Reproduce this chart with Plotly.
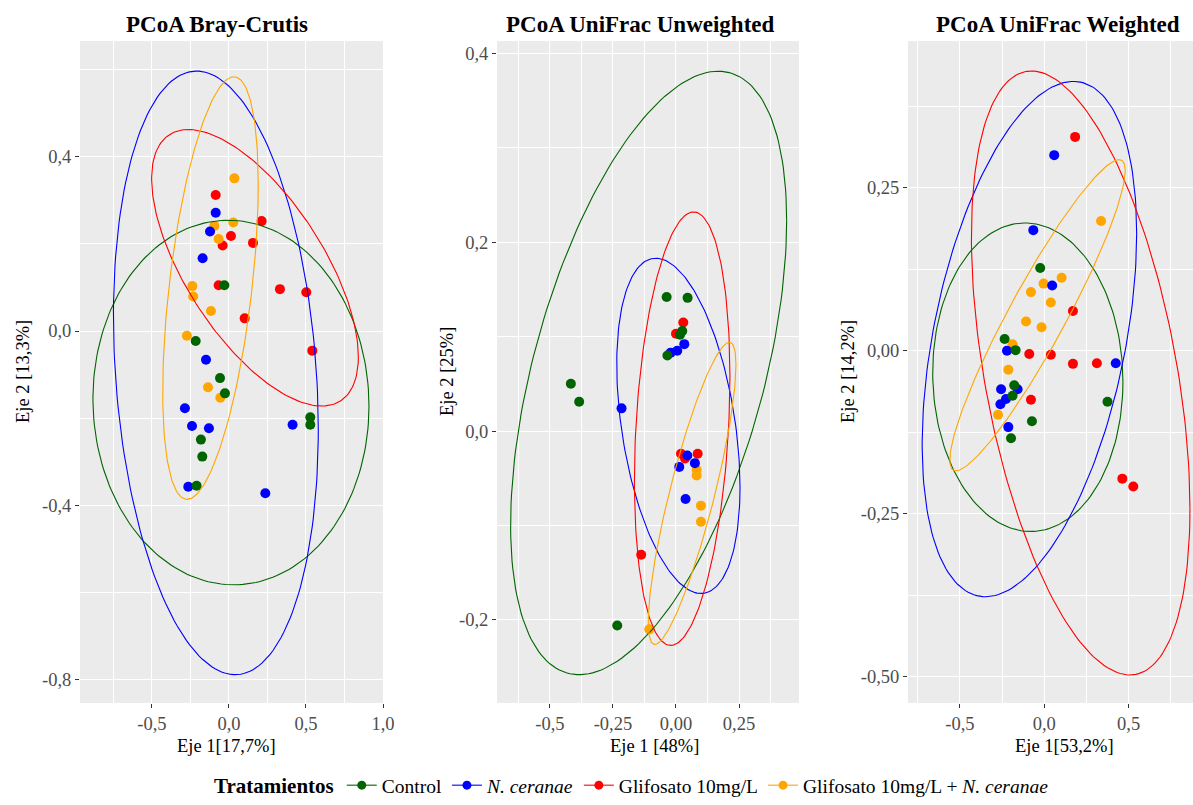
import numpy as np
import plotly.graph_objects as go

# ---- treatments -------------------------------------------------------
groups = ["Control", "<i>N. ceranae</i>", "Glifosato 10mg/L",
          "Glifosato 10mg/L + <i>N. ceranae</i>"]
colors = ["#006400", "#0000FF", "#FF0000", "#FFA500"]

# ---- PCoA Bray-Curtis scores -----------------------------------------
bc_ctrl_x = [-0.03, -0.216, -0.058, -0.026, 0.528, 0.528, -0.182, -0.173, -0.21]
bc_ctrl_y = [0.105, -0.023, -0.108, -0.143, -0.198, -0.215, -0.249, -0.288, -0.355]
bc_nc_x = [-0.086, -0.123, -0.171, -0.149, -0.286, -0.24, -0.13, 0.413, -0.264, 0.236]
bc_nc_y = [0.271, 0.228, 0.167, -0.066, -0.177, -0.218, -0.223, -0.215, -0.357, -0.372]
bc_gl_x = [-0.086, 0.212, 0.013, -0.041, 0.156, -0.067, 0.331, 0.502, 0.102, 0.541]
bc_gl_y = [0.312, 0.252, 0.218, 0.196, 0.202, 0.105, 0.096, 0.089, 0.029, -0.045]
bc_glnc_x = [0.035, -0.095, 0.028, -0.067, -0.238, -0.232, -0.117, -0.273, -0.136, -0.056]
bc_glnc_y = [0.35, 0.241, 0.249, 0.211, 0.103, 0.079, 0.046, -0.011, -0.129, -0.153]

# ---- PCoA UniFrac unweighted scores ----------------------------------
uu_ctrl_x = [-0.037, 0.046, 0.025, 0.016, -0.034, -0.417, -0.384, -0.233]
uu_ctrl_y = [0.142, 0.141, 0.106, 0.102, 0.080, 0.050, 0.031, -0.206]
uu_nc_x = [0.033, 0.005, -0.021, -0.216, 0.045, 0.075, 0.013, 0.038]
uu_nc_y = [0.092, 0.085, 0.083, 0.024, -0.026, -0.034, -0.038, -0.072]
uu_gl_x = [0.029, 0.0, 0.02, 0.086, 0.036, -0.138]
uu_gl_y = [0.115, 0.103, -0.024, -0.024, -0.029, -0.131]
uu_glnc_x = [0.082, 0.082, 0.099, 0.099, -0.106]
uu_glnc_y = [-0.041, -0.047, -0.079, -0.096, -0.21]

# ---- PCoA UniFrac weighted scores ------------------------------------
uw_ctrl_x = [-0.024, -0.235, -0.17, -0.178, -0.188, 0.375, -0.073, -0.197]
uw_ctrl_y = [0.127, 0.018, 0.001, -0.053, -0.069, -0.078, -0.108, -0.134]
uw_nc_x = [0.059, -0.065, 0.047, -0.221, 0.424, -0.256, -0.158, -0.227, -0.26, -0.213]
uw_nc_y = [0.30, 0.185, 0.10, 0.0, -0.019, -0.059, -0.059, -0.074, -0.082, -0.117]
uw_gl_x = [0.183, 0.17, -0.089, 0.039, 0.17, 0.312, -0.079, 0.463, 0.528]
uw_gl_y = [0.328, 0.061, -0.005, -0.006, -0.02, -0.019, -0.075, -0.196, -0.208]
uw_glnc_x = [0.337, 0.103, -0.004, -0.079, 0.039, -0.108, -0.016, -0.188, -0.213, -0.274]
uw_glnc_y = [0.199, 0.112, 0.103, 0.09, 0.074, 0.045, 0.036, 0.010, -0.029, -0.098]

# ---- confidence ellipses: centre, half-extents, tilt (sin of phase) ----
bc_ell_cx = [0.013, -0.085, 0.169, -0.12]
bc_ell_cy = [-0.164, -0.096, 0.145, 0.0985]
bc_ell_rx = [0.896, 0.665, 0.671, 0.31]
bc_ell_ry = [0.418, 0.692, 0.317, 0.4845]
bc_ell_tilt = [-0.02, -0.188, -0.645, 0.49]

uu_ell_cx = [-0.1085, 0.0095, 0.0245, 0.064]
uu_ell_cy = [0.0615, 0.0055, 0.0025, -0.066]
uu_ell_rx = [0.5475, 0.2445, 0.1895, 0.174]
uu_ell_ry = [0.3195, 0.1775, 0.2295, 0.16]
uu_ell_tilt = [0.504, -0.366, 0.24, 0.85]

uw_ell_cx = [-0.0975, -0.088, 0.216, -0.04]
uw_ell_cy = [-0.0405, 0.018, -0.034, 0.0545]
uw_ell_rx = [0.564, 0.636, 0.648, 0.52]
uw_ell_ry = [0.2365, 0.395, 0.463, 0.2385]
uw_ell_tilt = [-0.03, 0.41, -0.45, 0.93]

# ---- axis ticks ------------------------------------------------------
bc_xtick = [-0.5, 0.0, 0.5, 1.0]
bc_xtext = ["-0,5", "0,0", "0,5", "1,0"]
bc_xminor = [-0.75, -0.25, 0.25, 0.75]
bc_ytick = [0.4, 0.0, -0.4, -0.8]
bc_ytext = ["0,4", "0,0", "-0,4", "-0,8"]
bc_yminor = [0.6, 0.2, -0.2, -0.6]

uu_xtick = [-0.5, -0.25, 0.0, 0.25]
uu_xtext = ["-0,5", "-0,25", "0,00", "0,25"]
uu_xminor = [-0.625, -0.375, -0.125, 0.125, 0.375]
uu_ytick = [0.4, 0.2, 0.0, -0.2]
uu_ytext = ["0,4", "0,2", "0,0", "-0,2"]
uu_yminor = [0.3, 0.1, -0.1]

uw_xtick = [-0.5, 0.0, 0.5]
uw_xtext = ["-0,5", "0,0", "0,5"]
uw_xminor = [-0.75, -0.25, 0.25, 0.75]
uw_ytick = [0.25, 0.0, -0.25, -0.5]
uw_ytext = ["0,25", "0,00", "-0,25", "-0,50"]
uw_yminor = [0.375, 0.125, -0.125, -0.375]

titles = ["PCoA Bray-Crutis", "PCoA UniFrac Unweighted", "PCoA UniFrac Weighted"]
xlabels = ["Eje 1[17,7%]", "Eje 1 [48%]", "Eje 1[53,2%]"]
ylabels = ["Eje 2 [13,3%]", "Eje 2 [25%]", "Eje 2 [14,2%]"]

# ---- page geometry (pixels) ------------------------------------------
W, H = 1193, 805
FONT = "Liberation Serif"
panel_x = [(80, 383), (497, 799), (908, 1193)]
panel_top, panel_bottom = 41, 703
title_cx = [217, 640, 1058]
xlab_cx = [226, 654, 1064]
ylab_cx = [23, 447, 848]

panels = [
    dict(pts=[(bc_ctrl_x, bc_ctrl_y), (bc_nc_x, bc_nc_y), (bc_gl_x, bc_gl_y), (bc_glnc_x, bc_glnc_y)],
         ell=(bc_ell_cx, bc_ell_cy, bc_ell_rx, bc_ell_ry, bc_ell_tilt),
         xr=[-0.967, 1.0], yr=[-0.853, 0.665],
         xt=(bc_xtick, bc_xtext, bc_xminor), yt=(bc_ytick, bc_ytext, bc_yminor)),
    dict(pts=[(uu_ctrl_x, uu_ctrl_y), (uu_nc_x, uu_nc_y), (uu_gl_x, uu_gl_y), (uu_glnc_x, uu_glnc_y)],
         ell=(uu_ell_cx, uu_ell_cy, uu_ell_rx, uu_ell_ry, uu_ell_tilt),
         xr=[-0.71, 0.488], yr=[-0.288, 0.413],
         xt=(uu_xtick, uu_xtext, uu_xminor), yt=(uu_ytick, uu_ytext, uu_yminor)),
    dict(pts=[(uw_ctrl_x, uw_ctrl_y), (uw_nc_x, uw_nc_y), (uw_gl_x, uw_gl_y), (uw_glnc_x, uw_glnc_y)],
         ell=(uw_ell_cx, uw_ell_cy, uw_ell_rx, uw_ell_ry, uw_ell_tilt),
         xr=[-0.808, 0.882], yr=[-0.54, 0.475],
         xt=(uw_xtick, uw_xtext, uw_xminor), yt=(uw_ytick, uw_ytext, uw_yminor)),
]


def ellipse(cx, cy, rx, ry, tilt, n=200):
    t = np.linspace(0, 2 * np.pi, n)
    d = np.arcsin(tilt)
    return cx + rx * np.cos(t), cy + ry * np.sin(t + d)


fig = go.Figure()
layout = {}
annotations = []

for i, p in enumerate(panels):
    k = "" if i == 0 else str(i + 1)
    xa, ya = "x" + k, "y" + k
    # points first, ellipses on top
    for g in [2, 3, 1, 0]:
        px, py = p["pts"][g]
        fig.add_trace(go.Scatter(x=px, y=py, mode="markers", xaxis=xa, yaxis=ya,
                                 marker=dict(size=10, color=colors[g]),
                                 showlegend=False, hoverinfo="skip"))
    cxs, cys, rxs, rys, tls = p["ell"]
    for g in range(4):
        ex, ey = ellipse(cxs[g], cys[g], rxs[g], rys[g], tls[g])
        fig.add_trace(go.Scatter(x=ex, y=ey, mode="lines", xaxis=xa, yaxis=ya,
                                 line=dict(color=colors[g], width=1.1),
                                 showlegend=False, hoverinfo="skip"))

    x0, x1 = panel_x[i]
    common = dict(showline=False, zeroline=False, ticks="outside", ticklen=4,
                  tickwidth=1, tickcolor="#333333", gridcolor="white", gridwidth=1.2,
                  tickfont=dict(family=FONT, size=18.5, color="#4D4D4D"),
                  tickmode="array", fixedrange=True, automargin=False)
    xtv, xtt, xmn = p["xt"]
    ytv, ytt, ymn = p["yt"]
    layout["xaxis" + k] = dict(common, domain=[x0 / W, x1 / W], range=p["xr"],
                               anchor=ya, tickvals=xtv, ticktext=xtt,
                               minor=dict(tickmode="array", tickvals=xmn, showgrid=True,
                                          gridcolor="white", gridwidth=0.5, ticklen=0))
    layout["yaxis" + k] = dict(common, domain=[1 - panel_bottom / H, 1 - panel_top / H],
                               range=p["yr"], anchor=xa, tickvals=ytv, ticktext=ytt,
                               minor=dict(tickmode="array", tickvals=ymn, showgrid=True,
                                          gridcolor="white", gridwidth=0.5, ticklen=0))

    annotations.append(dict(text="<b>" + titles[i] + "</b>", x=title_cx[i] / W, y=1 - 25 / H,
                            xref="paper", yref="paper", showarrow=False,
                            xanchor="center", yanchor="middle",
                            font=dict(family=FONT, size=23, color="black")))
    annotations.append(dict(text=xlabels[i], x=xlab_cx[i] / W, y=1 - 746 / H,
                            xref="paper", yref="paper", showarrow=False,
                            xanchor="center", yanchor="middle",
                            font=dict(family=FONT, size=18.5, color="black")))
    annotations.append(dict(text=ylabels[i], x=ylab_cx[i] / W, y=1 - 372 / H,
                            xref="paper", yref="paper", showarrow=False, textangle=-90,
                            xanchor="center", yanchor="middle",
                            font=dict(family=FONT, size=18.5, color="black")))

# legend entries: point with a line through it
for g in range(4):
    fig.add_trace(go.Scatter(x=[None], y=[None], mode="lines+markers", name=groups[g],
                             line=dict(color=colors[g], width=1.1),
                             marker=dict(size=9, color=colors[g]), showlegend=True))

fig.update_layout(
    width=W, height=H,
    margin=dict(l=0, r=0, t=0, b=0, autoexpand=False),
    paper_bgcolor="white",
    plot_bgcolor="#EBEBEB",
    annotations=annotations,
    legend=dict(orientation="h", x=212 / W, y=0.0, xanchor="left", yanchor="bottom",
                title=dict(text="<b>Tratamientos</b>", side="left",
                           font=dict(family=FONT, size=21, color="black")),
                font=dict(family=FONT, size=19.5, color="black"),
                bgcolor="rgba(0,0,0,0)", itemwidth=30),
    **layout,
)

fig.write_html("out.html")
